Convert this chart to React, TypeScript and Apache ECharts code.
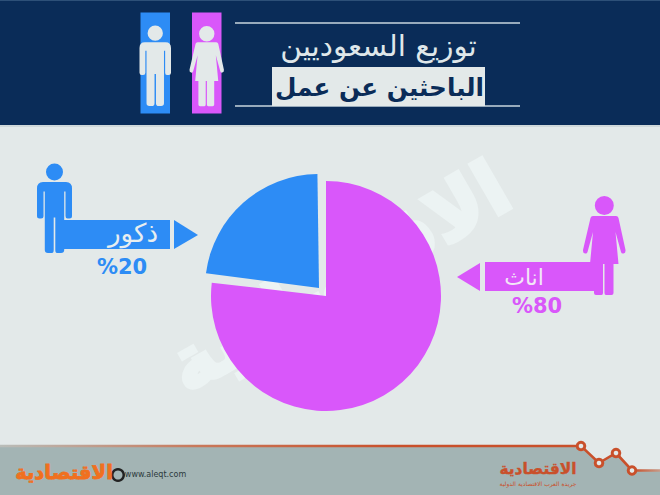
import React, { useEffect, useRef } from "react";
import * as echarts from "echarts";

const categories = ["اناث", "ذكور"];
const femaleSlice = [76.85, 23.15];
const maleSlice = [22.7, 77.3];
const percentLabels = ["%80", "%20"];
const titleLine = "توزيع السعوديين";
const subtitleLine = "الباحثين عن عمل";
const siteText = "www.aleqt.com";
const brandText = "الاقتصادية";
const brandTagline = "جريدة العرب الاقتصادية الدولية";

const NAVY = "#0a2c58";
const PAPER = "#e3e9e9";
const BLUE = "#2d8cf5";
const PINK = "#d957fa";
const SLATE = "#a3b4b4";
const RUST = "#c9502b";
const FONT = "'DejaVu Sans', sans-serif";

const manPath =
  "M9 8.5A8.5 8.5 0 1 1 26 8.5A8.5 8.5 0 1 1 9 8.5Z" +
  "M6 18.5L29 18.5Q35 18.5 35 25L35 52.5Q35 55 32.5 55L30.5 55Q28.5 55 28.5 52.5L28.5 28L27.2 28L27.2 86.5Q27.2 89.5 24 89.5L20 89.5Q18.3 89.5 18.3 86.5L18.3 54L16.7 54L16.7 86.5Q16.7 89.5 15 89.5L11 89.5Q7.8 89.5 7.8 86.5L7.8 28L6.5 28L6.5 52.5Q6.5 55 4 55L2.5 55Q0 55 0 52.5L0 25Q0 18.5 6 18.5Z";

const womanPath =
  "M11.8 9.5A9.5 9.5 0 1 1 30.8 9.5A9.5 9.5 0 1 1 11.8 9.5Z" +
  "M10 20L33 20Q35 20 35.5 22L42.5 54Q42.8 57 40.5 57.5Q38.6 58 38 56L32.5 36L35.5 68L30.5 68L30.5 97Q30.5 99 28.5 99L23 99Q21.5 99 21.5 97L21.5 68L20 68L20 97Q20 99 18.5 99L13 99Q11 99 11 97L11 68L7 68L10 36L4.5 56Q4 58 2 57.5Q-0.3 57 0 54L7.5 22Q8 20 10 20Z";

echarts.graphic.registerShape("manIcon", echarts.graphic.extendPath(manPath, {}) as any);
echarts.graphic.registerShape("womanIcon", echarts.graphic.extendPath(womanPath, {}) as any);

const text = (x: number, y: number, t: string, size: number, fill: string, weight: any = "normal", stroke = 0) => ({
  type: "text",
  x,
  y,
  z: 10,
  style: {
    text: t,
    fill,
    fontSize: size,
    fontWeight: weight,
    fontFamily: FONT,
    textAlign: "center",
    textVerticalAlign: "middle",
    ...(stroke ? { stroke: fill, lineWidth: stroke } : {}),
  },
});
const rect = (x: number, y: number, width: number, height: number, fill: string, z = 10) => ({
  type: "rect",
  z,
  shape: { x, y, width, height },
  style: { fill },
});
const poly = (points: number[][], fill: string, z = 10) => ({ type: "polygon", z, shape: { points }, style: { fill } });
const line = (x1: number, y1: number, x2: number, y2: number, stroke: string, lineWidth: number, z = 10) => ({
  type: "line",
  z,
  shape: { x1, y1, x2, y2 },
  style: { stroke, lineWidth },
});
const node = (cx: number, cy: number) => ({
  type: "circle",
  z: 12,
  shape: { cx, cy, r: 3.8 },
  style: { fill: PAPER, stroke: RUST, lineWidth: 3 },
});
const clear = { color: "rgba(0,0,0,0)" };
const sliceBase = {
  type: "pie",
  silent: true,
  label: { show: false },
  labelLine: { show: false },
  emphasis: { disabled: true },
};

export default function App() {
  const ref = useRef<HTMLDivElement>(null);
  useEffect(() => {
    document.body.style.margin = "0";
    const chart = echarts.init(ref.current!, undefined, { renderer: "svg" });
    chart.setOption({
      animation: false,
      backgroundColor: PAPER,
      tooltip: { show: false },
      legend: { show: false },
      series: [
        {
          ...sliceBase,
          z: 5,
          center: [326, 296],
          radius: 115,
          startAngle: 90,
          clockwise: true,
          data: [
            { name: categories[0], value: femaleSlice[0], itemStyle: { color: PINK } },
            { name: "", value: femaleSlice[1], itemStyle: clear },
          ],
        },
        {
          ...sliceBase,
          z: 6,
          center: [319, 288],
          radius: 114,
          startAngle: 90.8,
          clockwise: false,
          data: [
            { name: categories[1], value: maleSlice[0], itemStyle: { color: BLUE } },
            { name: "", value: maleSlice[1], itemStyle: clear },
          ],
        },
      ],
      graphic: {
        elements: [
          // watermark, behind the pie
          {
            type: "text",
            x: 338,
            y: 277,
            z: 1,
            rotation: (30 * Math.PI) / 180,
            style: {
              text: brandText,
              fill: "#ecf3f3",
              stroke: "#ecf3f3",
              lineWidth: 4,
              fontSize: 76,
              fontWeight: "bold",
              fontFamily: FONT,
              textAlign: "center",
              textVerticalAlign: "middle",
            },
          },
          // header
          rect(0, 0, 660, 125, NAVY, 2),
          rect(0, 0, 660, 1, "#2d5078", 2),
          rect(0, 125, 660, 2, "#cfd8da", 2),
          line(235, 23, 520, 23, "#c9d6de", 1.3),
          line(235, 106, 520, 106, "#c9d6de", 1.3),
          rect(272, 67, 213, 39, PAPER),
          text(378.5, 46, titleLine, 29.5, "#dfe7ea"),
          text(379.5, 87, subtitleLine, 24.7, NAVY, "bold"),
          rect(140.5, 12.5, 29.5, 101, BLUE),
          rect(192, 12.5, 29.5, 101, PINK),
          { type: "manIcon", z: 11, x: 139.5, y: 25.5, scaleX: 0.9, scaleY: 0.9, style: { fill: PAPER } },
          { type: "womanIcon", z: 11, x: 189.5, y: 26, scaleX: 0.81, scaleY: 0.81, style: { fill: PAPER } },

          // male callout
          { type: "manIcon", x: 37, y: 163.5, z: 10, style: { fill: BLUE } },
          rect(62, 220, 108, 29, BLUE),
          poly([[174, 220], [198, 235], [174, 249]], BLUE),
          text(133, 233, categories[1], 26, "#e8eef0"),
          text(122, 267, percentLabels[1], 21, BLUE, "bold"),

          // female callout
          { type: "womanIcon", x: 583, y: 196, z: 10, style: { fill: PINK } },
          rect(485, 262, 110, 29, PINK),
          poly([[480, 263], [457, 277], [480, 291]], PINK),
          text(524, 277, categories[0], 22, "#f2e6f6"),
          text(537, 306, percentLabels[0], 21, PINK, "bold"),

          // footer
          poly([[0, 446], [581, 446], [599, 463], [616, 453], [632, 470.5], [660, 470.5], [660, 495], [0, 495]], SLATE, 2),
          {
            type: "polyline",
            z: 11,
            shape: { points: [[0, 446], [581, 446], [599, 463], [616, 453], [632, 470.5], [660, 470.5]] },
            style: {
              fill: "none",
              lineWidth: 2.6,
              stroke: new echarts.graphic.LinearGradient(0, 0, 1, 0, [
                { offset: 0, color: "#b9bdb9" },
                { offset: 0.3, color: "#c9785a" },
                { offset: 0.6, color: RUST },
                { offset: 0.96, color: RUST },
                { offset: 1, color: "#c79a88" },
              ]),
            },
          },
          node(581, 446),
          node(599, 463),
          node(616, 453),
          node(632, 470.5),
          { type: "ring", z: 9, shape: { cx: 118, cy: 475, r: 7, r0: 4.5 }, style: { fill: "#222" } },
          text(64, 472, brandText, 19.5, "#f0701f", "bold", 0.8),
          text(155.5, 474.5, siteText, 8, "#2c3a3c"),
          text(538, 469, brandText, 15.4, RUST, "bold", 0.4),
          text(538, 483, brandTagline, 6, RUST),
        ],
      },
    });
    return () => chart.dispose();
  }, []);
  return <div ref={ref} style={{ width: 660, height: 495, position: "absolute", left: 0, top: 0 }} />;
}
